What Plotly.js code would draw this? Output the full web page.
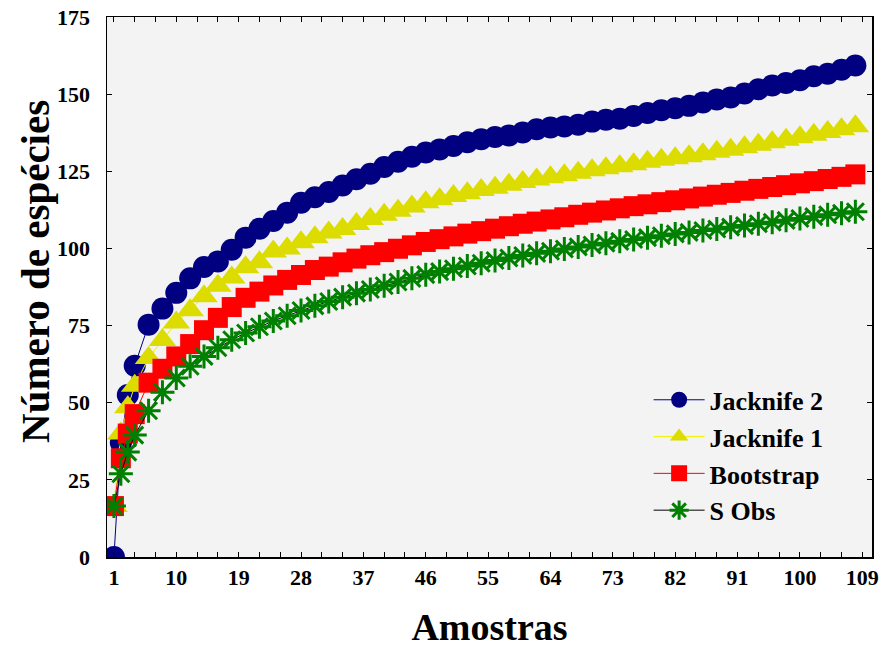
<!DOCTYPE html>
<html>
<head>
<meta charset="utf-8">
<script src="https://cdn.plot.ly/plotly-3.0.1.min.js"></script>
<style>html,body{margin:0;padding:0;background:#fff}#chart{width:884px;height:648px}</style>
</head>
<body>
<div id="chart"></div>
<script>
var amostras = [1,2,3,4,6,8,10,12,14,16,18,20,22,24,26,28,30,32,34,36,38,40,42,44,46,48,50,52,54,56,58,60,62,64,66,68,70,72,74,76,78,80,82,84,86,88,90,92,94,96,98,100,102,104,106,108];

var jacknife2 = [0,37,52.5,62,75.3,80.5,85.6,90.3,94,95.8,99.6,103.5,106.4,108.9,111.6,114.8,116.6,118.3,120.4,122.4,124.2,126.4,128.1,129.7,131.1,132.1,133.2,134.4,135.4,136.1,136.6,137.6,138.6,139.2,139.5,140.1,141.1,141.7,142,142.9,143.9,144.8,145.4,146.2,147.3,148.3,148.9,150.2,151.6,152.8,153.6,154.5,155.8,156.6,157.9,159.3];

var jacknife1 = [16.5,40,48.5,55.5,64.5,70.3,76,80,84.5,87.9,90.6,93.9,95.5,99,100,102,103.6,105.2,106.3,107.9,109.5,110.9,112.2,113.6,115,115.9,117,117.9,118.9,119.7,120.6,121.5,122.3,123.1,123.7,124.5,125.3,126,126.6,127.3,128.1,128.7,129.2,129.9,130.5,131.3,132,132.8,133.6,134.4,135.2,136,136.8,137.7,138.6,139.6];

var bootstrap = [16.5,32,40,46.3,56.5,61,65,69,73.5,77.5,81,84,86,88,89.8,91.4,93,94.1,95.5,96.7,97.8,98.8,99.9,101,102.1,103,103.9,104.8,105.6,106.4,107.2,108,108.7,109.4,110.1,110.9,111.6,112.3,113,113.7,114.3,115,115.6,116.2,116.8,117.4,118,118.7,119.3,119.9,120.5,121.1,121.8,122.5,123.2,124];

var sObs = [16.5,27,34,39.5,47.4,53.4,58,61.8,65,67.8,70.4,72.6,74.6,76.5,78.2,79.9,81.4,82.8,84.2,85.5,86.7,87.9,89.1,90.3,91.5,92.5,93.4,94.3,95.2,96.1,96.9,97.7,98.4,99.1,99.8,100.5,101.1,101.7,102.3,102.9,103.5,104.1,104.7,105.2,105.8,106.3,106.9,107.4,108,108.5,109.1,109.7,110.3,110.9,111.4,111.9];

var seriesNames = ['Jacknife 2','Jacknife 1','Bootstrap','S Obs'];
var xTickLabels = [1,10,19,28,37,46,55,64,73,82,91,100,109];
var yTickLabels = [0,25,50,75,100,125,150,175];
var xTitle = 'Amostras';
var yTitle = 'Número de espécies';

var serif = 'Liberation Serif, Times New Roman, serif';

var traces = [
  {x: amostras, y: jacknife2, name: seriesNames[0], mode: 'lines+markers',
   line: {color: '#000080', width: 1},
   marker: {symbol: 'circle', size: 22, color: '#000080'}},
  {x: amostras, y: jacknife1, name: seriesNames[1], mode: 'lines+markers',
   line: {color: '#f0f000', width: 1},
   marker: {symbol: 'triangle-up', size: 24, color: '#dcdc00'}},
  {x: amostras, y: bootstrap, name: seriesNames[2], mode: 'lines+markers',
   line: {color: '#ff0000', width: 1},
   marker: {symbol: 'square', size: 20, color: '#ff0000'}},
  {x: amostras, y: sObs, name: seriesNames[3], mode: 'lines+markers',
   line: {color: '#000000', width: 1},
   marker: {symbol: 'asterisk-open', size: 20, color: '#008000', line: {color: '#008000', width: 3}}}
];

var layout = {
  width: 884, height: 648,
  margin: {l: 107, r: 12, t: 17, b: 91, pad: 0},
  paper_bgcolor: '#ffffff',
  plot_bgcolor: '#f3f3f3',
  showlegend: true,
  legend: {
    x: 0.708, y: 0.3345, xanchor: 'left', yanchor: 'top',
    bgcolor: 'rgba(0,0,0,0)',
    font: {family: serif, size: 26, color: '#000', weight: 'bold'},
    itemwidth: 51
  },
  xaxis: {
    range: [0, 110.4],
    tickmode: 'array', tickvals: xTickLabels, ticktext: xTickLabels.map(String),
    ticks: 'inside', ticklen: 5, tickwidth: 1, tickcolor: '#000',
    minor: {tick0: 1, dtick: 3, ticks: 'inside', ticklen: 5, tickcolor: '#000', tickwidth: 1},
    showline: true, linecolor: '#000', linewidth: 1.5, mirror: 'ticks',
    showgrid: false, zeroline: false,
    tickfont: {family: serif, size: 22, color: '#000', weight: 'bold'},
    title: {text: xTitle, font: {family: serif, size: 38, color: '#000', weight: 'bold'}, standoff: 25}
  },
  yaxis: {
    range: [0, 175],
    tickmode: 'array', tickvals: yTickLabels, ticktext: yTickLabels.map(String),
    ticks: 'inside', ticklen: 5, tickwidth: 1, tickcolor: '#000',
    showline: true, linecolor: '#000', linewidth: 1.5, mirror: 'ticks',
    showgrid: false, zeroline: false,
    ticklabelstandoff: 11,
    tickfont: {family: serif, size: 22, color: '#000', weight: 'bold'}
  },
  annotations: [{
    text: yTitle, textangle: -90, showarrow: false,
    xref: 'paper', yref: 'paper', x: -0.094, y: 0.528, xanchor: 'center', yanchor: 'middle',
    font: {family: serif, size: 41, color: '#000', weight: 'bold'}
  }]
};

Plotly.newPlot('chart', traces, layout, {displayModeBar: false, staticPlot: true});
</script>
</body>
</html>
